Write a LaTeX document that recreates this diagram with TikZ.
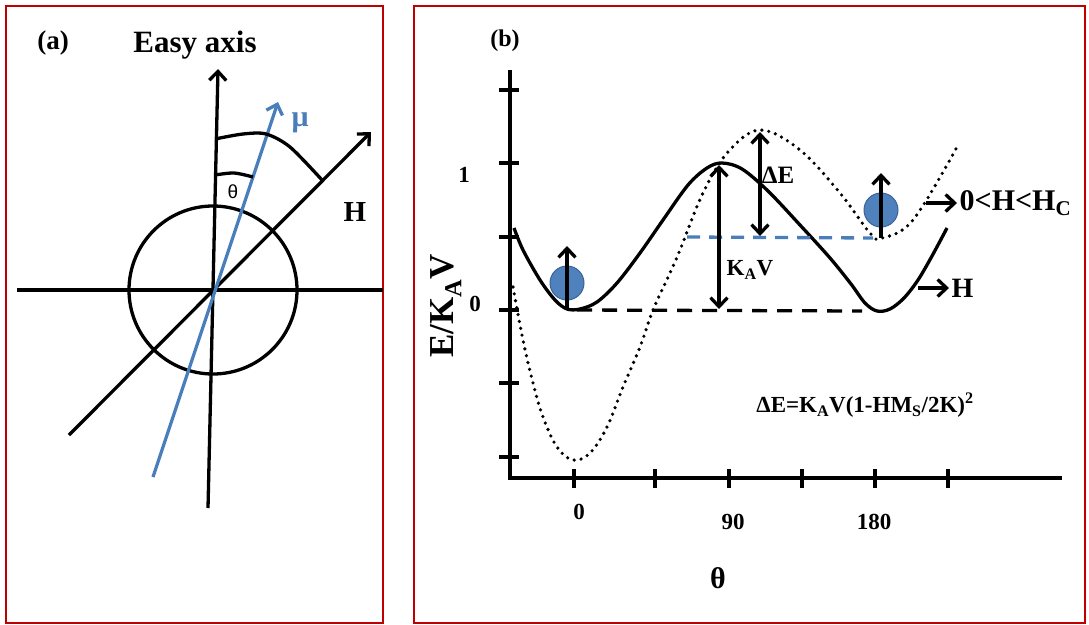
\documentclass[tikz,border=0pt]{standalone}
\usepackage{fontspec}
\setmainfont{Liberation Serif}
\newfontfamily\sansgr{Liberation Sans}
\usetikzlibrary{arrows.meta}
\definecolor{framered}{RGB}{192,0,0}
\definecolor{mublue}{RGB}{74,126,187}
\definecolor{ballfill}{RGB}{79,129,189}
\definecolor{balledge}{RGB}{60,98,150}
\begin{document}
\begin{tikzpicture}[x=1pt,y=-1pt,line width=3.3pt,
  frm/.style={draw=framered,line width=2.5pt},
  barb/.tip={Straight Barb[length=9pt,width=17pt]},
  arr/.style={-barb},
  darr/.style={barb-barb},
  txt/.style={inner sep=0pt,font=\bfseries\fontsize{#1}{#1}\selectfont},
  ball/.style={circle,fill=ballfill,draw=balledge,line width=1pt,minimum size=34pt,inner sep=0pt},
  tick/.style={line width=3.3pt},
  dots/.style={line width=3.6pt,line cap=round,dash pattern=on 0pt off 7pt},
  blk/.style={dash pattern=on 15pt off 10pt},
  bld/.style={draw=mublue,dash pattern=on 13pt off 9pt}]
\useasboundingbox (0,0) rectangle (1089,624);
% frames
\draw[frm] (6,6) rectangle (383,623);
\draw[frm] (414,6) rectangle (1085,623);

% ---------- panel (a) ----------
\node[txt=27] (la) at (53,43) {(a)};
\node[txt=31] (easy) at (195,45) {Easy axis};
\coordinate (O) at (213,290);
\coordinate (eabot) at (208,508);
\coordinate (eatop) at (218,69);
\coordinate (hl) at (17,290);
\coordinate (hr) at (383,290);
\coordinate (Hbot) at (69,435);
\coordinate (Htop) at (371,132);
\coordinate (mubot) at (153,477);
\coordinate (mutop) at (278,102);
\draw (hl) -- (hr);
\draw (O) circle[radius=84];
\draw[arr] (eabot) -- (eatop);
\draw[arr] (Hbot) -- (Htop);
\draw[arr,draw=mublue] (mubot) -- (mutop);
\draw plot[smooth] coordinates {(215,175) (234,173) (253,177)};
\draw plot[smooth] coordinates {(215,139) (243,134) (266,134) (290,147) (322,180)};
\node[txt=30,text=mublue] (mu) at (300,123) {μ};
\node[inner sep=0pt,font=\sansgr\fontsize{19}{19}\selectfont] (tha) at (233,192) {θ};
\node[txt=29] (Ha) at (355,212) {H};

% ---------- panel (b) ----------
\node[txt=24] (lb) at (505,41) {(b)};
\coordinate (ytop) at (510,70);
\coordinate (xo) at (510,478);
\coordinate (xend) at (1062,478);
\draw (ytop) -- (xo) -- (xend);
\foreach \y in {90,163,237,310,383,457} \draw[tick] (499,\y) -- (519,\y);
\foreach \x in {574,655,729,802,875,948} \draw[tick] (\x,469) -- (\x,488);
\node[txt=23] (y1) at (464,175) {1};
\node[txt=23] (y0) at (475,304) {0};
\node[txt=35,rotate=90] (ylab) at (446,306) {E/K\textsubscript{A}V};
\node[txt=23] (x0) at (579,512) {0};
\node[txt=23] (x90) at (733,522) {90};
\node[txt=23] (x180) at (874,522) {180};
\node[txt=30] (xlab) at (718,578) {θ};

% solid curve
\draw plot[smooth,tension=0.55] coordinates {(514,228) (523,250) (540,280) (555,300) (567,309) (580,309) (597,302) (617,283) (640,253) (663,220) (688,185) (707,168) (722,163) (742,169) (768,191) (800,225) (830,258) (851,284) (865,303) (877,311) (890,309) (904,298) (918,280) (932,256) (947,228)};
% dotted curve
\draw[dots] plot[smooth,tension=0.6] coordinates {(513,287) (523,340) (533,383) (543,417) (557,447) (573,460) (590,453) (607,427) (623,387) (640,347) (653,310) (670,273) (680,250) (703,193) (728,152) (760,130) (800,150) (840,193) (870,233) (882,238) (913,220) (957,147)};
% dashed lines
\coordinate (d0a) at (577,310);
\coordinate (d0b) at (862,311);
\draw[blk] (d0a) -- (d0b);
\coordinate (dba) at (687,237);
\coordinate (dbb) at (873,238);
\draw[bld] (dba) -- (dbb);

% balls and moments
\node[ball] (b1) at (567,283) {};
\coordinate (b1s) at (567,310);
\coordinate (b1e) at (567,246);
\draw[arr] (b1s) -- (b1e);
\node[ball] (b2) at (881,210) {};
\coordinate (b2s) at (881,238);
\coordinate (b2e) at (881,173);
\draw[arr] (b2s) -- (b2e);

% energy arrows
\coordinate (kat) at (719,165);
\coordinate (kab) at (719,309);
\draw[darr] (kat) -- (kab);
\coordinate (det) at (760,132);
\coordinate (deb) at (760,236);
\draw[darr] (det) -- (deb);
\node[txt=25] (dE) at (778,175) {ΔE};
\node[txt=23] (KAV) at (750,270) {K\textsubscript{A}V};

% field labels
\coordinate (f1a) at (926,203);
\coordinate (f1b) at (957,203);
\draw[arr] (f1a) -- (f1b);
\node[txt=30,anchor=west] (hc) at (958,203) {0<H<H\textsubscript{C}};
\coordinate (f2a) at (918,288);
\coordinate (f2b) at (949,288);
\draw[arr] (f2a) -- (f2b);
\node[txt=28,anchor=west] (Hb) at (950,288) {H};

\node[txt=23] (form) at (865,405) {ΔE=K\textsubscript{A}V(1-HM\textsubscript{S}/2K)\textsuperscript{2}};
\end{tikzpicture}
\end{document}
